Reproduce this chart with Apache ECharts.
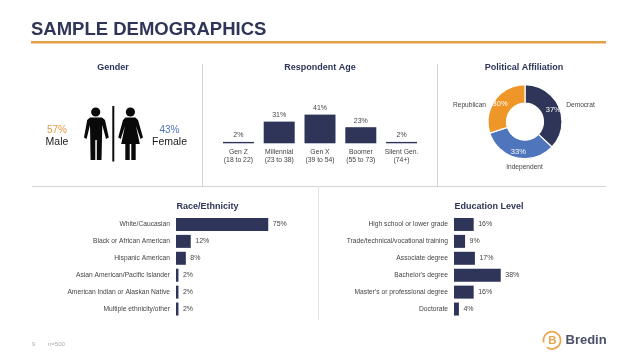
<!DOCTYPE html>
<html>
<head>
<meta charset="utf-8">
<style>
  html, body { margin: 0; padding: 0; background: #fff; }
  #chart { width: 638px; height: 359px; }
</style>
<script src="https://cdn.jsdelivr.net/npm/echarts@6/dist/echarts.min.js"></script>
</head>
<body>
<div id="chart"></div>
<script>
const ageCategories = ['Gen Z\n(18 to 22)', 'Millennial\n(23 to 38)', 'Gen X\n(39 to 54)', 'Boomer\n(55 to 73)', 'Silent Gen.\n(74+)'];
const ageValues = [2, 31, 41, 23, 2];

const partyNames = ['Democrat', 'Independent', 'Republican'];
const partyValues = [37, 33, 30];

const raceCategories = ['White/Caucasian', 'Black or African American', 'Hispanic American', 'Asian American/Pacific Islander', 'American Indian or Alaskan Native', 'Multiple ethnicity/other'];
const raceValues = [75, 12, 8, 2, 2, 2];

const eduCategories = ['High school or lower grade', 'Trade/technical/vocational training', 'Associate degree', "Bachelor's degree", "Master's or professional degree", 'Doctorate'];
const eduValues = [16, 9, 17, 38, 16, 4];

const NAVY = '#2e3558';
const ORANGE = '#ee9627';
const BLUE = '#4f76bd';
const FONT = '"Liberation Sans", Arial, sans-serif';

function text(x, y, str, size, color, weight, align) {
  return {
    type: 'text', x, y,
    style: {
      text: str, fontSize: size, fill: color, fontFamily: FONT,
      fontWeight: weight || 'normal', align: align || 'center', verticalAlign: 'middle'
    }
  };
}
function line(x1, y1, x2, y2, color, width) {
  return { type: 'line', shape: { x1, y1, x2, y2 }, style: { stroke: color, lineWidth: width || 1 } };
}
function poly(points) {
  return { type: 'polygon', shape: { points }, style: { fill: '#0a0a0a' } };
}
function dot(cx, cy, r) {
  return { type: 'circle', shape: { cx, cy, r }, style: { fill: '#0a0a0a' } };
}

// restroom style icons for the gender panel
const man = [
  dot(95.7, 112, 4.6),
  poly([[90, 117.4], [102, 117.4], [105, 120], [108.8, 137.5], [106, 139], [102.3, 125], [101.5, 160], [96.8, 160], [96.8, 140], [95.3, 140], [95.3, 160], [90.6, 160], [90, 125], [86.6, 139], [84, 137.5], [87.2, 120]])
];
const woman = [
  dot(130.4, 112, 4.6),
  poly([[125.5, 117.4], [135.5, 117.4], [138, 120], [143, 137.5], [140.5, 139], [136, 126], [139.8, 144], [135.7, 144], [135.7, 160], [131.3, 160], [131.3, 144], [129.7, 144], [129.7, 160], [125.3, 160], [125.3, 144], [121.2, 144], [125, 126], [120.7, 139], [118.2, 137.5], [123, 120]])
];

const graphicEls = [
  text(31, 30, 'SAMPLE DEMOGRAPHICS', 18.5, NAVY, 'bold', 'left'),
  line(31, 42.3, 606, 42.3, '#e3a045', 2.5),

  line(202.5, 64, 202.5, 186, '#d4d4d4'),
  line(437.5, 64, 437.5, 186, '#d4d4d4'),
  line(32, 186.5, 606, 186.5, '#d4d4d4'),
  line(318.5, 186, 318.5, 320, '#e4e4e4'),

  text(113, 67.5, 'Gender', 9, NAVY, 'bold'),
  text(320, 67.5, 'Respondent Age', 9, NAVY, 'bold'),
  text(524, 67.5, 'Political Affiliation', 9, NAVY, 'bold'),
  text(207.5, 207, 'Race/Ethnicity', 9, NAVY, 'bold'),
  text(489, 207, 'Education Level', 9, NAVY, 'bold'),

  text(57, 130.3, '57%', 10, '#e39a45'),
  text(57, 142.5, 'Male', 10.5, '#222'),
  text(169.5, 130.3, '43%', 10, BLUE),
  text(169.5, 142.5, 'Female', 10.5, '#222'),
  ...man,
  line(113.3, 106, 113.3, 161.5, '#0a0a0a', 2),
  ...woman,

  text(32, 344, '9', 5.5, '#aaa', 'normal', 'left'),
  text(48, 344, 'n=500', 6, '#aaa', 'normal', 'left'),

  { type: 'arc', shape: { cx: 552, cy: 340.3, r: 8.6, startAngle: 2.9, endAngle: 2.2 }, style: { fill: 'none', stroke: '#e8a650', lineWidth: 1.8 } },
  text(552.5, 340.5, 'B', 11.5, '#e8a650', 'bold'),
  text(565.5, 340.3, 'Bredin', 13, '#4b5068', 'bold', 'left')
];

function hbarOption(left, categories, values) {
  return {
    grid: { left, top: 216, width: 123, height: 101.5 },
    x: { type: 'value', min: 0, max: 100, show: false },
    y: {
      type: 'category', data: categories, inverse: true,
      axisLine: { show: false }, axisTick: { show: false },
      axisLabel: { fontSize: 6.7, color: '#444', fontFamily: FONT, margin: 6 }
    },
    series: {
      type: 'bar', data: values, barWidth: 13, itemStyle: { color: NAVY }, silent: true, animation: false,
      label: { show: true, position: 'right', distance: 4.5, formatter: '{c}%', fontSize: 7, color: '#444', fontFamily: FONT }
    }
  };
}
const race = hbarOption(176, raceCategories, raceValues);
const edu = hbarOption(454, eduCategories, eduValues);

const myChart = echarts.init(document.getElementById('chart'), null, { renderer: 'canvas' });
myChart.setOption({
  animation: false,
  backgroundColor: '#fff',
  grid: [
    { left: 218, top: 108.3, width: 204, height: 35 },
    race.grid,
    edu.grid
  ],
  xAxis: [
    {
      type: 'category', data: ageCategories, gridIndex: 0,
      axisLine: { show: false }, axisTick: { show: false },
      axisLabel: { fontSize: 6.8, color: '#444', fontFamily: FONT, margin: 5, lineHeight: 8, interval: 0 }
    },
    { ...race.x, gridIndex: 1 },
    { ...edu.x, gridIndex: 2 }
  ],
  yAxis: [
    { type: 'value', min: 0, max: 50, show: false, gridIndex: 0 },
    { ...race.y, gridIndex: 1 },
    { ...edu.y, gridIndex: 2 }
  ],
  series: [
    {
      type: 'bar', data: ageValues, barWidth: 31, xAxisIndex: 0, yAxisIndex: 0,
      itemStyle: { color: NAVY },
      label: { show: true, position: 'top', distance: 3, formatter: '{c}%', fontSize: 7, color: '#444', fontFamily: FONT }
    },
    { ...race.series, xAxisIndex: 1, yAxisIndex: 1 },
    { ...edu.series, xAxisIndex: 2, yAxisIndex: 2 },
    {
      type: 'pie',
      center: [525, 121.7],
      radius: [18.5, 37],
      startAngle: 90,
      data: partyNames.map((name, i) => ({
        name, value: partyValues[i], itemStyle: { color: [NAVY, BLUE, ORANGE][i] }
      })),
      itemStyle: { borderColor: '#fff', borderWidth: 1.2 },
      label: { show: true, position: 'inside', formatter: '{c}%', fontSize: 7.5, color: '#fff', fontFamily: FONT },
      labelLine: { show: false }
    }
  ],
  graphic: { elements: [
    ...graphicEls,
    text(580.5, 105.5, partyNames[0], 6.6, '#444'),
    text(524.5, 166.8, partyNames[1], 6.6, '#444'),
    text(469.5, 105.5, partyNames[2], 6.6, '#444')
  ] }
});
</script>
</body>
</html>
